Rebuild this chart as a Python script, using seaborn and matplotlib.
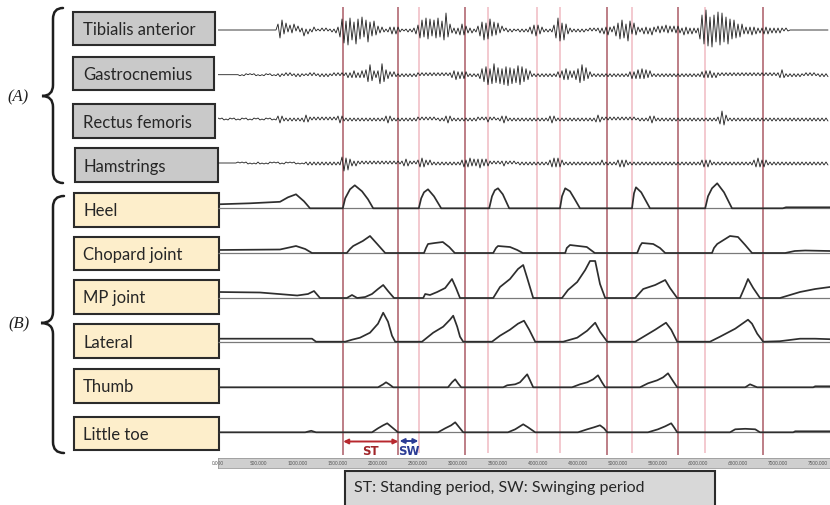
import numpy as np
import matplotlib
matplotlib.use("Agg")
import matplotlib.pyplot as plt
from matplotlib.patches import Rectangle, PathPatch
from matplotlib.path import Path
import seaborn as sns

# ---------------------------------------------------------------- data
EMG_LABELS = ["Tibialis anterior", "Gastrocnemius", "Rectus femoris", "Hamstrings"]
PRESSURE_LABELS = ["Heel", "Chopard joint", "MP joint", "Lateral", "Thumb", "Little toe"]
GROUP_LABELS = ["(A)", "(B)"]
LEGEND_TEXT = "ST: Standing period, SW: Swinging period"

# EMG envelopes, one character per 25 ms sample (base-36 digit = deflection)
EMG_STEP_MS = 25
TIBIALIS = ("0000000000" "0000000000" "0000000000" "68a4725361" "4226141231"
            "1121211213" "37bd9fca8e" "b9d7ac8695" "4332123434" "3211121224"
            "58a7c9b6a8" "c79ah76324" "2565432312" "468a79b685" "7341221211"
            "1212123456" "5432121258" "cb7a642212" "1212112121" "2324353246"
            "79a86b9475" "3224342532" "4342534243" "4325342423" "29fekgdhfc"
            "ifhcdeb9a8" "6764343534" "2324342323" "2321210000" "0000000000"
            "000000")
GASTROCNEMIUS = ("0000000000" "0101101011" "0101101101" "1211212112" "1211112121"
                 "1212121121" "2121232343" "234357a643" "49b7543232" "1212121212"
                 "2121212121" "2121212345" "3434321212" "14678a69b8" "796a8b7968"
                 "9a87654212" "1212121212" "3345654345" "68a6743212" "1212121212"
                 "1212123434" "5464534212" "1212121212" "1212121212" "1233434323"
                 "2121212121" "2121212121" "2121212121" "2353121212" "1211212121"
                 "121212")
RECTUS = ("1011011011" "0110110110" "1101101101" "3432121212" "1213432121"
          "2121212121" "3432121212" "1212121212" "1212343212" "1212121212"
          "2121212121" "1212343212" "1212121212" "2121232121" "1234321212"
          "1212121212" "1212123432" "1212121212" "1212121213" "4321212121"
          "2121212121" "1212123432" "1212121212" "1212121212" "1212121212"
          "2586421212" "1212121212" "1212121212" "1212121212" "1212121212"
          "121212")
HAMSTRINGS = ("0000000000" "1010110101" "1101011010" "1101101011" "0101121212"
              "1212121212" "1268574323" "2121212121" "2121212121" "2123432121"
              "3454323212" "1212121212" "1234345343" "4543432121" "2123212121"
              "1212121212" "1212123454" "5432121212" "1212121212" "1232121212"
              "3434321212" "1212121212" "1212121212" "1212121212" "1234343212"
              "1212121212" "1212121234" "5434321212" "1212121212" "1212121212"
              "121212")
EMG_CODES = [TIBIALIS, GASTROCNEMIUS, RECTUS, HAMSTRINGS]

# Foot pressure curves: time (ms) and height above the channel baseline
HEEL_T = [0, 400, 775, 875, 975, 1075, 1150, 1560, 1590, 1650, 1710, 1800, 1875, 1940,
          2510, 2540, 2575, 2625, 2700, 2790, 3390, 3425, 3460, 3500, 3560, 3640,
          4275, 4300, 4340, 4400, 4460, 4525, 5175, 5200, 5225, 5290, 5400,
          6090, 6125, 6175, 6240, 6325, 6425, 7060, 7100, 7650]
HEEL_H = [4, 5, 6.5, 11, 14, 7, 0, 0, 10, 19, 23, 17, 9, 0,
          0, 10, 16, 19, 12, 0, 0, 12, 18, 20, 14, 0,
          0, 12, 20, 17, 9, 0, 0, 15, 21, 16, 0,
          0, 12, 20, 25, 16, 0, 0, 1, 1]
CHOPARD_T = [0, 775, 975, 1090, 1175, 1610, 1650, 1690, 1810, 1900, 1990, 2090,
             2575, 2600, 2625, 2710, 2810, 2890, 2960, 3440, 3475, 3500, 3650, 3740, 3810,
             4340, 4360, 4400, 4610, 4710, 5240, 5275, 5300, 5440, 5525, 5590,
             6175, 6200, 6240, 6400, 6500, 6590, 6675, 7090, 7210, 7340, 7650]
CHOPARD_H = [3, 3.5, 7, 4, 0, 0, 4, 7, 12, 17, 9, 0,
             0, 5, 9, 10, 11, 6, 0, 0, 5, 7, 6, 3, 0,
             0, 5, 8, 6, 0, 0, 7, 10, 9, 5, 0,
             0, 5, 9, 17, 16, 8, 0, 0, 2, 2.5, 2]
MP_T = [0, 525, 990, 1125, 1200, 1275, 1610, 1675, 1740, 1840, 1925, 2000, 2065, 2125, 2200,
        2565, 2590, 2650, 2740, 2840, 2925, 2975, 3025, 3440, 3525, 3650, 3750, 3815, 3865, 3940,
        4300, 4375, 4490, 4590, 4650, 4715, 4775, 4840, 5215, 5315, 5465, 5590, 5650, 5740,
        6525, 6590, 6625, 6690, 6775, 7025, 7275, 7465, 7650]
MP_H = [6, 5.5, 2.5, 4, 7, 0, 0, 3, 0, 1, 4, 9, 13, 7, 0,
        0, 4, 3, 6, 10, 19, 10, 0, 0, 11, 19, 29, 33, 20, 0,
        0, 8, 16, 28, 37, 37, 14, 0, 0, 9, 13, 18, 10, 0,
        0, 12, 19, 10, 0, 0, 6, 9, 11]
LATERAL_T = [0, 1175, 1225, 1590, 1675, 1775, 1900, 2000, 2065, 2125, 2175, 2215,
             2550, 2690, 2815, 2900, 2940, 2990, 3025, 3065, 3425, 3525, 3650, 3750, 3825, 3890, 3965,
             4315, 4490, 4615, 4715, 4775, 4865, 5215, 5340, 5465, 5600, 5665, 5740,
             6150, 6275, 6465, 6625, 6675, 6740, 6815, 7025, 7275, 7465, 7650]
LATERAL_H = [3, 3, 0, 0, 2, 4, 9, 18, 29, 20, 6, 0,
             0, 9, 15, 22, 26, 15, 5, 0, 0, 6, 12, 18, 21, 12, 0,
             0, 4, 11, 19, 10, 0, 0, 6, 12, 19, 12, 0,
             0, 5, 13, 22, 18, 8, 0, 0.5, 3, 3, 2.5]
THUMB_T = [0, 2000, 2065, 2100, 2140, 2190, 2875, 2925, 2965, 3000, 3040,
           3565, 3615, 3715, 3775, 3865, 3900, 3940, 4425, 4525, 4615, 4690, 4750, 4800, 4840,
           5275, 5375, 5490, 5565, 5625, 5690, 5740, 6590, 6650, 6740, 7440, 7465, 7650]
THUMB_H = [0, 0, 3, 5, 3, 0, 0, 5, 8, 4, 0,
           0, 2, 3, 5, 13, 7, 0, 0, 3, 5, 8, 12, 5, 0,
           0, 4, 7, 10, 14, 6, 0, 0, 3, 0, 0, 1, 1]
LITTLE_T = [0, 1090, 1165, 1225, 1925, 2000, 2065, 2115, 2175, 2250,
            2750, 2840, 2915, 2965, 3015, 3065, 3625, 3715, 3775, 3815, 3875, 3965,
            4500, 4615, 4700, 4775, 4825, 4865, 5375, 5500, 5590, 5665, 5700, 5740,
            6400, 6465, 6590, 6715, 6775, 7190, 7215, 7650]
LITTLE_H = [0, 0, 1.5, 0, 0, 4, 7, 9, 5, 0,
            0, 4, 7, 10, 5, 0, 0, 3, 6, 8, 5, 0,
            0, 3, 5, 7, 4, 0, 0, 3, 6, 9, 5, 0,
            0, 3, 3.5, 3, 0, 0, 1, 1]
PRESSURE = [(HEEL_T, HEEL_H), (CHOPARD_T, CHOPARD_H), (MP_T, MP_H),
            (LATERAL_T, LATERAL_H), (THUMB_T, THUMB_H), (LITTLE_T, LITTLE_H)]

# gait event markers (ms)
EVENTS_MAJOR = [1565, 2255, 3085, 4865, 5755, 6815]
EVENTS_MINOR = [2510, 3380, 3985, 4275, 5180, 6085]
SW_END = 2505

RULER_TICKS = list(range(0, 8000, 500))
T_MAX = 7650

# ---------------------------------------------------------------- style
sns.set_style("white")
plt.rcParams["font.family"] = ["Lato", "DejaVu Sans"]

W, H = 830, 506
fig = plt.figure(figsize=(W / 100, H / 100), dpi=100)
fig.patch.set_facecolor("white")

# overlay in pixel coordinates for labels, braces and legend
ov = fig.add_axes([0, 0, 1, 1])
ov.set_xlim(0, W)
ov.set_ylim(H, 0)
ov.axis("off")

# recording area: x = time (ms), y in the same pixel rows as the overlay
ax = fig.add_axes([218 / W, 1 - 458 / H, 612 / W, 458 / H])
ax.set_xlim(0, T_MAX)
ax.set_ylim(458, 0)
ax.axis("off")
ax.patch.set_alpha(0)

EMG_ROWS = [31, 75.7, 120, 164]
PRESSURE_ROWS = [209.3, 254, 299, 342.7, 388.3, 433.3]

# event markers
ax.vlines(EVENTS_MINOR, 8, 454, color="#f2c5cc", lw=1.3, zorder=1)
ax.vlines(EVENTS_MAJOR, 8, 456, color="#b8747d", lw=1.3, zorder=1)

# EMG traces
for code, row in zip(EMG_CODES, EMG_ROWS):
    amp = np.array([int(c, 36) for c in code], dtype=float)
    sign = np.where(np.arange(len(amp)) % 2 == 0, 1.0, -1.0)
    t = np.arange(len(amp)) * EMG_STEP_MS
    sns.lineplot(x=t, y=row - amp * sign, ax=ax, color="#1c1c1c", lw=0.6,
                 estimator=None, sort=False, zorder=3)

# pressure traces over their baselines
for (t, h), row in zip(PRESSURE, PRESSURE_ROWS):
    ax.hlines(row, 0, T_MAX, color="#7a7a7a", lw=0.9, zorder=2)
    sns.lineplot(x=np.array(t), y=row - np.array(h), ax=ax, color="#2e2e2e",
                 lw=1.25, estimator=None, sort=False, zorder=3)

# ST / SW arrows
ax.annotate("", xy=(EVENTS_MAJOR[1], 442.5), xytext=(EVENTS_MAJOR[0], 442.5),
            arrowprops=dict(arrowstyle="<|-|>", color="#b8282e", lw=1.4,
                            mutation_scale=7, shrinkA=0, shrinkB=0))
ax.annotate("", xy=(SW_END, 442), xytext=(EVENTS_MAJOR[1] + 15, 442),
            arrowprops=dict(arrowstyle="<|-|>", color="#2c3c95", lw=1.4,
                            mutation_scale=7, shrinkA=0, shrinkB=0))
ax.text((EVENTS_MAJOR[0] + EVENTS_MAJOR[1]) / 2, 451.5, "ST", color="#a0262a",
        ha="center", va="center", fontsize=8.5, fontweight="bold",
        family=["Liberation Sans Narrow", "DejaVu Sans"])
ax.text((EVENTS_MAJOR[1] + SW_END) / 2 + 10, 451.5, "SW", color="#2c3c95",
        ha="center", va="center", fontsize=8.5, fontweight="bold",
        family=["Liberation Sans Narrow", "DejaVu Sans"])

# time ruler
rx = fig.add_axes([218 / W, 1 - 469 / H, 612 / W, 10 / H])
rx.set_xlim(0, T_MAX)
rx.set_ylim(0, 1)
rx.set_facecolor("#cfcfcf")
rx.set_yticks([])
rx.set_xticks(RULER_TICKS)
rx.set_xticklabels([f"{v}.000" for v in RULER_TICKS])
rx.tick_params(axis="x", direction="in", length=3, width=0.6, pad=-5.4,
               labelsize=3.3, labelcolor="#555555", color="#555555")
for s in rx.spines.values():
    s.set_color("#9a9a9a")
    s.set_linewidth(0.6)

# channel name boxes
A_BOXES = [(73, 13, 215, 46), (73, 58, 214, 91), (73, 105, 215, 139), (75, 149, 218, 183)]
B_BOXES = [(74, 194, 219, 228), (74, 238, 219, 271), (74, 281, 219, 315),
           (74, 325, 219, 359), (74, 370, 219, 404), (74, 418, 219, 451)]
for labels, boxes, fill in [(EMG_LABELS, A_BOXES, "#c9c9c9"),
                            (PRESSURE_LABELS, B_BOXES, "#fdeecb")]:
    for name, (x0, y0, x1, y1) in zip(labels, boxes):
        ov.add_patch(Rectangle((x0, y0), x1 - x0, y1 - y0, facecolor=fill,
                               edgecolor="#2b2b2b", lw=1.5))
        ov.text(83, (y0 + y1) / 2 + 0.5, name, ha="left", va="center",
                fontsize=12, color="#262626")


def brace(xr, xs, xt, yt, ym, yb, r=11):
    verts = [(xr, yt), (xs, yt), (xs, yt + r),
             (xs, ym - r),
             (xs, ym), (xt, ym),
             (xs, ym), (xs, ym + r),
             (xs, yb - r),
             (xs, yb), (xr, yb)]
    codes = [Path.MOVETO, Path.CURVE3, Path.CURVE3,
             Path.LINETO,
             Path.CURVE3, Path.CURVE3,
             Path.CURVE3, Path.CURVE3,
             Path.LINETO,
             Path.CURVE3, Path.CURVE3]
    ov.add_patch(PathPatch(Path(verts, codes), facecolor="none",
                           edgecolor="#1e1e1e", lw=1.8, capstyle="round"))


brace(63, 53, 42, 9, 97, 184)
brace(64, 53, 41, 197, 324, 454)
ov.text(18, 97, GROUP_LABELS[0], ha="center", va="center", fontsize=12,
        style="italic", family=["Liberation Serif", "DejaVu Serif"], color="#1e1e1e")
ov.text(19, 324, GROUP_LABELS[1], ha="center", va="center", fontsize=12,
        style="italic", family=["Liberation Serif", "DejaVu Serif"], color="#1e1e1e")

# legend box
ov.add_patch(Rectangle((345, 472), 370, 45, facecolor="#d8d8d8",
                       edgecolor="#2b2b2b", lw=1.5, clip_on=False))
ov.text(354, 488, LEGEND_TEXT, ha="left", va="center", fontsize=11.5, color="#262626")

fig.savefig("out.png", dpi=100, facecolor="white")
